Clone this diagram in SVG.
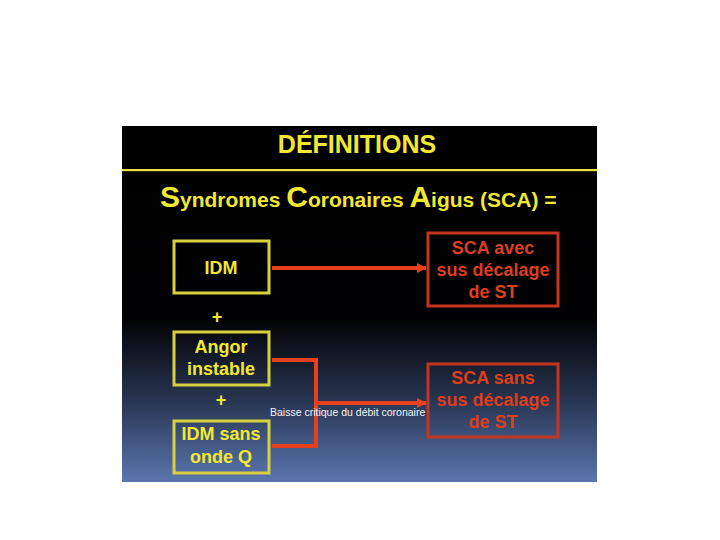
<svg xmlns="http://www.w3.org/2000/svg" width="720" height="540" viewBox="0 0 720 540">
<defs>
<linearGradient id="bg" x1="0" y1="0" x2="0" y2="1">
<stop offset="0" stop-color="#000"/>
<stop offset="0.54" stop-color="#020204"/>
<stop offset="0.76" stop-color="#26324e"/>
<stop offset="1" stop-color="#5a76ae"/>
</linearGradient>
<marker id="ah" viewBox="0 0 10 10" refX="9" refY="5" markerWidth="2.6" markerHeight="2.6" markerUnits="strokeWidth" orient="auto">
<path d="M0,0 L10,5 L0,10 z" fill="#e8401c"/>
</marker>
<style>
.t{font-family:"Liberation Sans",Arial,sans-serif;font-weight:bold;}
.y{fill:#f2e832;}
.r{fill:#dc3e1e;}
.yb{fill:none;stroke:#d8d040;stroke-width:3;}
.rb{fill:none;stroke:#c4341e;stroke-width:3;}
.c{fill:none;stroke:#e8401c;stroke-width:4;}
</style>
</defs>
<rect width="720" height="540" fill="#fff"/>
<rect x="122" y="126" width="475" height="356" fill="url(#bg)"/>
<text class="t y" x="357" y="153" font-size="25" text-anchor="middle">DÉFINITIONS</text>
<rect x="122" y="169" width="475" height="2.2" fill="#e8e040"/>
<text class="t y" x="160" y="207" font-size="21"><tspan font-size="30">S</tspan>yndromes <tspan font-size="30">C</tspan>oronaires <tspan font-size="30">A</tspan>igus (SCA) =</text>

<g id="connectors">
<path class="c" d="M272,268 H426" marker-end="url(#ah)"/>
<path class="c" d="M272,360 H316 V446 H272"/>
<path class="c" d="M316,403 H426" marker-end="url(#ah)"/>
<text x="270" y="416" font-family="Liberation Sans,Arial,sans-serif" font-size="10.5" fill="#f4f4f4">Baisse critique du débit coronaire</text>
</g>

<g id="idm">
<rect class="yb" x="174" y="241" width="95" height="52"/>
<text class="t y" x="221" y="274" font-size="18" text-anchor="middle">IDM</text>
</g>
<g id="plus1"><text class="t y" x="217" y="323" font-size="18" text-anchor="middle">+</text></g>
<g id="angor">
<rect class="yb" x="174" y="332" width="95" height="53"/>
<text class="t y" x="221" y="353" font-size="18" text-anchor="middle">Angor</text>
<text class="t y" x="221" y="375" font-size="18" text-anchor="middle">instable</text>
</g>
<g id="plus2"><text class="t y" x="221" y="406" font-size="18" text-anchor="middle">+</text></g>
<g id="idmsans">
<rect class="yb" x="174" y="421" width="95" height="52"/>
<text class="t y" x="221" y="440" font-size="18" text-anchor="middle">IDM sans</text>
<text class="t y" x="221" y="463" font-size="18" text-anchor="middle">onde Q</text>
</g>
<g id="sca-avec">
<rect class="rb" x="428" y="233" width="130" height="73"/>
<text class="t r" x="493" y="254" font-size="18" text-anchor="middle">SCA avec</text>
<text class="t r" x="493" y="276" font-size="18" text-anchor="middle">sus décalage</text>
<text class="t r" x="493" y="298" font-size="18" text-anchor="middle">de ST</text>
</g>
<g id="sca-sans">
<rect class="rb" x="428" y="364" width="130" height="73"/>
<text class="t r" x="493" y="384" font-size="18" text-anchor="middle">SCA sans</text>
<text class="t r" x="493" y="406" font-size="18" text-anchor="middle">sus décalage</text>
<text class="t r" x="493" y="428" font-size="18" text-anchor="middle">de ST</text>
</g>
</svg>
